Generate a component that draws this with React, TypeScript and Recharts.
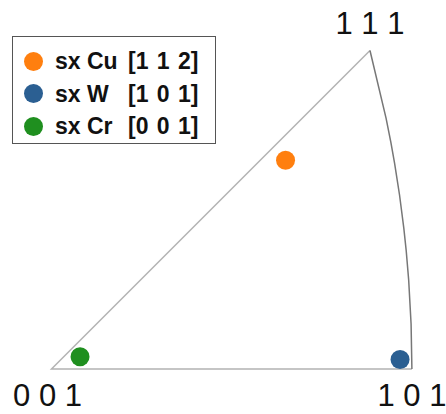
import { Legend, Scatter, ScatterChart, XAxis, YAxis } from "recharts";

type Dir = [number, number, number];

// corners of the cubic standard triangle
const CORNER_DIRS: Dir[] = [
  [0, 0, 1],
  [1, 0, 1],
  [1, 1, 1],
];
const CORNER_LABELS = ["0 0 1", "1 0 1", "1 1 1"];

// directions lying on the [101]-[111] zone (the curved edge)
const ARC_DIRS: Dir[] = [
  [1, 0, 1],
  [8, 1, 8],
  [4, 1, 4],
  [3, 1, 3],
  [5, 2, 5],
  [2, 1, 2],
  [5, 3, 5],
  [3, 2, 3],
  [4, 3, 4],
  [1, 1, 1],
];

// measured sample positions (stereographic coords)
const SAMPLES = ["sx Cu", "sx W", "sx Cr"];
const ORIENTATIONS = ["[1 1 2]", "[1 0 1]", "[0 0 1]"];
const SAMPLE_X = [0.269, 0.4006, 0.0328];
const SAMPLE_Y = [0.24, 0.0109, 0.0141];

const COLORS = ["#ff7f0f", "#2b5f92", "#1f8f1f"];

// stereographic projection, 001 at the centre
const project = ([h, k, l]: Dir) => {
  const n = Math.hypot(h, k, l);
  return { x: h / (n + l), y: k / (n + l) };
};

const edgeData = [CORNER_DIRS[2], CORNER_DIRS[0], CORNER_DIRS[1]].map(project);
const arcData = ARC_DIRS.map(project);
const cornerData = CORNER_DIRS.map((d, i) => ({ ...project(d), label: CORNER_LABELS[i] }));

// label offsets from the corner, px
const LABEL_OFFSET: Record<string, [number, number]> = {
  "0 0 1": [-4, 37],
  "1 0 1": [0, 37],
  "1 1 1": [0, -17],
};

const Nothing = () => <g />;

const CornerLabel = (props: any) => {
  const { cx, cy, payload } = props;
  const [dx, dy] = LABEL_OFFSET[payload.label];
  return (
    <text
      x={cx + dx}
      y={cy + dy}
      textAnchor="middle"
      fontSize={31}
      fontFamily="'Liberation Sans', Arial, sans-serif"
      fill="#111"
    >
      {payload.label}
    </text>
  );
};

function LegendBox() {
  return (
    <div
      style={{
        border: "1.5px solid #555",
        width: 204,
        height: 108,
        boxSizing: "border-box",
        paddingTop: 8,
        background: "#fff",
        fontFamily: "'Liberation Sans', Arial, sans-serif",
        fontWeight: "bold",
        fontSize: 23,
        color: "#111",
      }}
    >
      {SAMPLES.map((name, i) => (
        <div
          key={name}
          style={{ position: "relative", height: 32.5, lineHeight: "32.5px" }}
        >
          <span
            style={{
              position: "absolute",
              left: 11,
              top: 6.5,
              width: 19,
              height: 19,
              borderRadius: "50%",
              background: COLORS[i],
            }}
          />
          <span style={{ position: "absolute", left: 42 }}>{name}</span>
          <span style={{ position: "absolute", left: 115, wordSpacing: 2 }}>
            {ORIENTATIONS[i]}
          </span>
        </div>
      ))}
    </div>
  );
}

export default function App() {
  return (
    <div style={{ position: "absolute", left: 0, top: 0, background: "#fff" }}>
      <ScatterChart
        width={446}
        height={414}
        margin={{ top: 0, right: 0, bottom: 0, left: 0 }}
      >
        <XAxis
          type="number"
          dataKey="x"
          domain={[-0.0592, 0.4534]}
          allowDataOverflow
          hide
        />
        <YAxis
          type="number"
          dataKey="y"
          domain={[-0.0517, 0.4241]}
          allowDataOverflow
          hide
        />
        <Legend
          layout="vertical"
          align="center"
          verticalAlign="middle"
          wrapperStyle={{ left: 12, top: 36, width: 204 }}
          content={() => <LegendBox />}
        />
        <Scatter
          name="edges"
          data={edgeData}
          line={{ stroke: "#b3b3b3", strokeWidth: 1.5 }}
          shape={Nothing}
          legendType="none"
          isAnimationActive={false}
        />
        <Scatter
          name="arc"
          data={arcData}
          line={{ stroke: "#777", strokeWidth: 1.5 }}
          shape={Nothing}
          legendType="none"
          isAnimationActive={false}
        />
        <Scatter
          name="corners"
          data={cornerData}
          shape={CornerLabel}
          legendType="none"
          isAnimationActive={false}
        />
        {SAMPLES.map((name, i) => (
          <Scatter
            key={name}
            name={name}
            data={[{ x: SAMPLE_X[i], y: SAMPLE_Y[i] }]}
            fill={COLORS[i]}
            shape={(p: any) => <circle cx={p.cx} cy={p.cy} r={9.5} fill={COLORS[i]} />}
            isAnimationActive={false}
          />
        ))}
      </ScatterChart>
    </div>
  );
}
